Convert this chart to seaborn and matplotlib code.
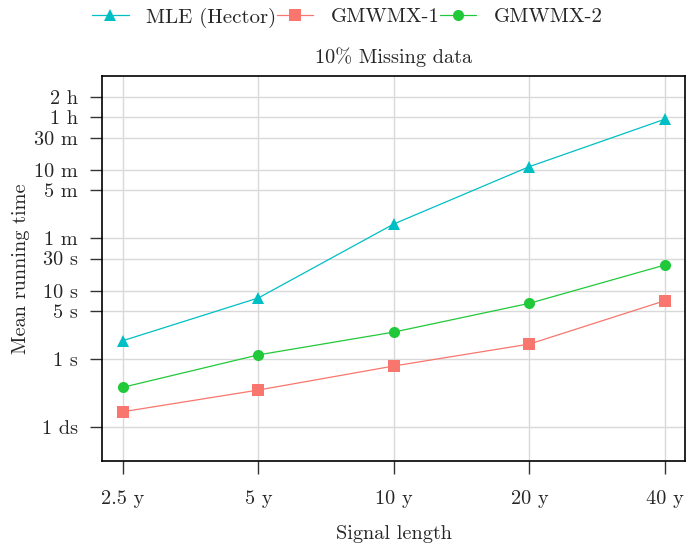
import numpy as np
import pandas as pd
import matplotlib
matplotlib.use("Agg")
import matplotlib.pyplot as plt
from matplotlib.lines import Line2D
import seaborn as sns

# Data (seconds)
signal_years = [2.5, 5, 10, 20, 40]
x_labels = ["2.5 y", "5 y", "10 y", "20 y", "40 y"]
mle_hector = [1.86, 7.9, 96.7, 673, 3350]
gmwmx_1 = [0.168, 0.35, 0.79, 1.66, 7.2]
gmwmx_2 = [0.384, 1.15, 2.49, 6.59, 24.1]
methods = ["MLE (Hector)", "GMWMX-1", "GMWMX-2"]
y_tick_values = [0.1, 1, 5, 10, 30, 60, 300, 600, 1800, 3600, 7200]
y_tick_labels = ["1 ds", "1 s", "5 s", "10 s", "30 s", "1 m", "5 m", "10 m", "30 m", "1 h", "2 h"]

df = pd.DataFrame({
    "length": signal_years * 3,
    "time": mle_hector + gmwmx_1 + gmwmx_2,
    "method": [methods[0]] * 5 + [methods[1]] * 5 + [methods[2]] * 5,
})

sns.set_theme(style="whitegrid")
plt.rcParams["font.family"] = ["cmr10", "DejaVu Serif"]
plt.rcParams["axes.formatter.use_mathtext"] = True
plt.rcParams["axes.unicode_minus"] = False

FS = 14.6
palette = {"MLE (Hector)": "#00BFC4", "GMWMX-1": "#F8766D", "GMWMX-2": "#21C93A"}
markers = {"MLE (Hector)": "^", "GMWMX-1": "s", "GMWMX-2": "o"}

fig = plt.figure(figsize=(6.88, 5.46), dpi=100)
ax = fig.add_axes([0.148, 0.156, 0.848, 0.705])

sns.lineplot(data=df, x="length", y="time", hue="method", style="method",
             palette=palette, markers=markers, dashes=False, markersize=8,
             markeredgewidth=0, linewidth=0.9, ax=ax, hue_order=methods,
             style_order=methods, legend=False)

ax.set_xscale("log", base=2)
ax.set_yscale("log")
ax.set_xlim(2.5 * 2 ** -0.155, 40 * 2 ** 0.15)
ax.set_ylim(0.0319, 14500)
ax.set_xticks(signal_years)
ax.set_xticklabels(x_labels)
ax.xaxis.set_minor_locator(matplotlib.ticker.NullLocator())
ax.set_yticks(y_tick_values)
ax.set_yticklabels(y_tick_labels)
ax.yaxis.set_minor_locator(matplotlib.ticker.NullLocator())

ax.grid(True, color="#d9d9d9", linewidth=1)
for s in ax.spines.values():
    s.set_color("black")
    s.set_linewidth(1.2)
ax.tick_params(axis="both", which="major", length=9, width=1, color="#333333",
               labelsize=FS, direction="out", bottom=True, left=True)
ax.tick_params(axis="x", pad=12)
ax.tick_params(axis="y", pad=8)

ax.set_xlabel("Signal length", fontsize=FS, labelpad=12)
ax.set_ylabel("Mean running time", fontsize=FS, labelpad=3)
ax.set_title("10% Missing data", fontsize=FS, pad=9)

handles = [Line2D([0], [0], color=palette[m], marker=markers[m], markersize=8,
                  markeredgewidth=0, linewidth=0.9) for m in methods]
ax.legend(handles, methods, loc="center", bbox_to_anchor=(0.505, 0.968),
          bbox_transform=fig.transFigure, ncol=3,
          frameon=False, fontsize=15, columnspacing=0.0, handlelength=1.75,
          handletextpad=0.85, borderaxespad=0)

fig.savefig("out.png", dpi=100)
